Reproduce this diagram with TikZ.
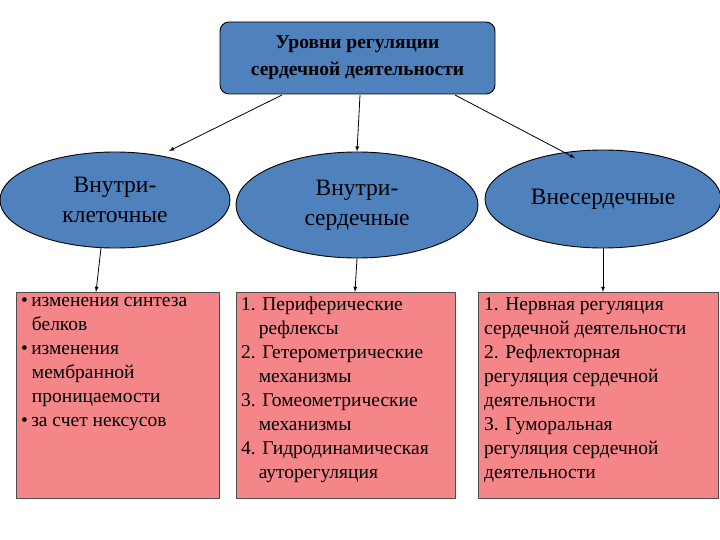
\documentclass[tikz,border=0pt]{standalone}
\usepackage{fontspec}
\setmainfont{Liberation Serif}
\usetikzlibrary{shapes.geometric}
\definecolor{blu}{HTML}{4F81BD}
\definecolor{pnk}{HTML}{F4868A}
\begin{document}
\begin{tikzpicture}[x=1pt,y=-1pt,
 ell/.style={ellipse,draw=black,line width=0.9pt,fill=blu,align=center,font=\fontsize{23.5}{30}\selectfont,inner sep=0pt},
 pbox/.style={draw=black!70,fill=pnk,line width=0.6pt,anchor=north west,inner sep=0pt},
 arr/.style={-latex,line width=0.8pt}]
\useasboundingbox (0,0) rectangle (720,540);
\node[draw=black,line width=0.9pt,fill=blu,rounded corners=9pt,minimum width=275pt,minimum height=72pt,align=center,font=\bfseries\fontsize{19.5}{27}\selectfont] (top) at (357.5,58) {Уровни регуляции\\сердечной деятельности};
\node[ell,minimum width=230pt,minimum height=96pt] (e1) at (115,200) {Внутри-\\клеточные};
\node[ell,minimum width=242pt,minimum height=106pt] (e2) at (357,205) {Внутри-\\сердечные};
\node[ell,minimum width=236pt,minimum height=98pt] (e3) at (603,199) {Внесердечные};
\node[pbox,minimum width=203pt,minimum height=206pt] (b1) at (16,292) {};
\node[pbox,minimum width=219pt,minimum height=206pt] (b2) at (236,292) {};
\node[pbox,minimum width=240pt,minimum height=206pt] (b3) at (478,292) {};
\begin{scope}[font=\fontsize{19.5}{24}\selectfont]
\node[anchor=north west,align=left,inner sep=0pt] (t1) at (21,297) {\textbullet\,изменения синтеза\\\hspace*{0.55em}белков\\\textbullet\,изменения\\\hspace*{0.55em}мембранной\\\hspace*{0.55em}проницаемости\\\textbullet\,за счет нексусов};
\node[anchor=north west,align=left,inner sep=0pt] (t2) at (241,297) {1. Периферические\\\hspace*{0.9em}рефлексы\\2. Гетерометрические\\\hspace*{0.9em}механизмы\\3. Гомеометрические\\\hspace*{0.9em}механизмы\\4. Гидродинамическая\\\hspace*{0.9em}ауторегуляция};
\node[anchor=north west,align=left,inner sep=0pt] (t3) at (484,297) {1. Нервная регуляция\\сердечной деятельности\\2. Рефлекторная\\регуляция сердечной\\деятельности\\3. Гуморальная\\регуляция сердечной\\деятельности};
\end{scope}
\coordinate (a1) at (282,95); \coordinate (a2) at (360,95); \coordinate (a3) at (455,95);
\coordinate (h1) at (169,151);
\draw[arr] (a1) -- (h1);
\draw[arr] (a2) -- (e2.north);
\draw[arr] (a3) -- (575,158);
\draw[arr] (101,248) -- (b1.north -| 96,0);
\draw[arr] (e2.south) -- (b2.north -| 355,0);
\draw[arr] (e3.south) -- (b3.north -| 603,0);
\end{tikzpicture}
\end{document}
